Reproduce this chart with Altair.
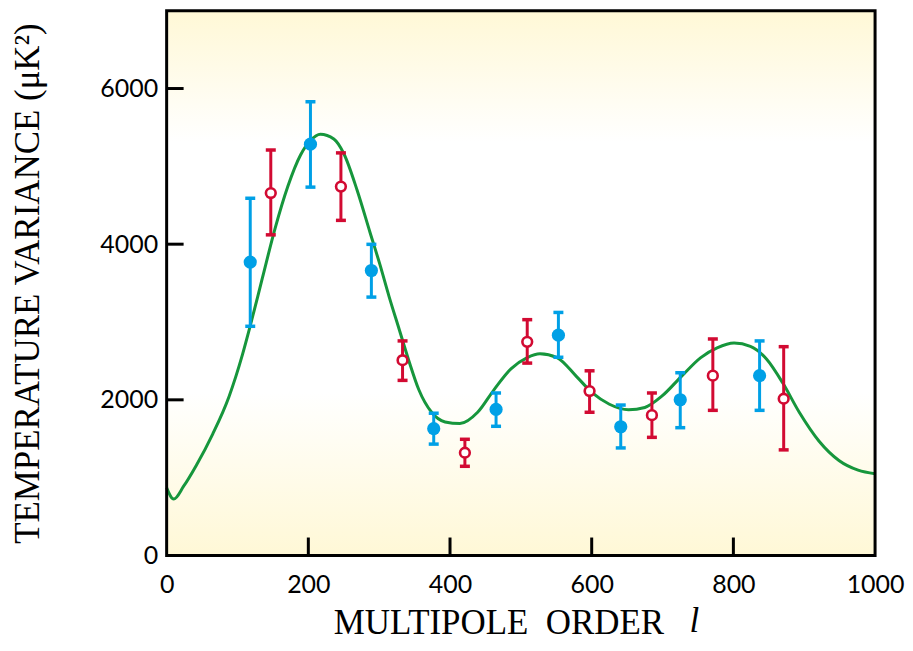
import altair as alt
import pandas as pd

# ---- data ----
X_DOMAIN = [0, 1000]
Y_DOMAIN = [0, 7000]
X_TICKS = [0, 200, 400, 600, 800, 1000]
Y_TICKS = [0, 2000, 4000, 6000]

BLUE_L = [118, 203, 289, 377, 465, 553, 641, 725, 837]
BLUE_V = [3770, 5285, 3662, 1630, 1877, 2831, 1654, 2001, 2311]
BLUE_HI = [4590, 5830, 3998, 1828, 2088, 3123, 1933, 2348, 2757]
BLUE_LO = [2945, 4733, 3320, 1431, 1660, 2547, 1382, 1642, 1865]

RED_L = [147, 246, 333, 421, 509, 597, 685, 771, 871]
RED_V = [4657, 4740, 2509, 1320, 2745, 2113, 1803, 2311, 2014]
RED_HI = [5210, 5173, 2757, 1493, 3030, 2373, 2088, 2782, 2683]
RED_LO = [4120, 4306, 2250, 1146, 2472, 1840, 1518, 1865, 1357]

CURVE_L = [0, 10, 24, 42, 65, 88, 107, 118, 135, 153, 171, 189, 203, 217, 236,
           250, 269, 287, 301, 314, 328, 342, 356, 374, 393, 414, 439, 462, 486,
           509, 527, 551, 579, 601, 625, 652, 675, 699, 726, 754, 777, 801, 824,
           847, 870, 893, 921, 949, 976, 1000]
CURVE_V = [870, 725, 890, 1160, 1560, 2040, 2580, 2950, 3560, 4200, 4740, 5145,
           5331, 5413, 5351, 5165, 4690, 4154, 3740, 3327, 2914, 2500, 2129, 1840,
           1716, 1695, 1840, 2129, 2398, 2543, 2592, 2543, 2295, 2088, 1943, 1873,
           1902, 2047, 2295, 2543, 2667, 2729, 2687, 2522, 2212, 1840, 1468, 1221,
           1097, 1050]

X_TITLE = "MULTIPOLE\u2002ORDER"
X_TITLE_VAR = "l"
Y_TITLE = "TEMPERATURE VARIANCE (\u03bcK\u00b2)"

# ---- styling ----
W, H = 710, 546
TICK_LEN = 17  # pixels, inward
BLUE = "#00A0E6"
RED = "#D20A32"
GREEN = "#16963C"
LABEL_FONT = "Lato"
TITLE_FONT = "Liberation Serif"
VAR_X = 738  # horizontal anchor of the italic "l" (in axis units)

# tick length expressed in axis units
TICK_DX = TICK_LEN / W * (X_DOMAIN[1] - X_DOMAIN[0])
TICK_DY = (TICK_LEN + 1) / H * (Y_DOMAIN[1] - Y_DOMAIN[0])

xs = alt.Scale(domain=X_DOMAIN, nice=False, zero=False)
ys = alt.Scale(domain=Y_DOMAIN, nice=False, zero=False)

X_AXIS = alt.Axis(
    values=X_TICKS, format="d", ticks=False, tickSize=0, domain=False, grid=False,
    labelFont=LABEL_FONT, labelFontSize=25, labelColor="black",
    labelPadding=17, labelFlush=False,
    title=X_TITLE, titleFont=TITLE_FONT, titleFontSize=35,
    titleFontWeight="normal", titleColor="black",
    titleAlign="left", titleAnchor="start", titleX=167, titlePadding=8)
Y_AXIS = alt.Axis(
    values=Y_TICKS, format="d", ticks=False, tickSize=0, domain=False, grid=False,
    labelFont=LABEL_FONT, labelFontSize=25, labelColor="black",
    labelPadding=9, labelFlush=False,
    title=Y_TITLE, titleFont=TITLE_FONT, titleFontSize=35,
    titleFontWeight="normal", titleColor="black", titlePadding=54)


def X(field):
    return alt.X(field, scale=xs, axis=X_AXIS)


def Y(field):
    return alt.Y(field, scale=ys, axis=Y_AXIS)


frame_df = pd.DataFrame({"x0": [X_DOMAIN[0]], "x1": [X_DOMAIN[1]],
                         "y0": [Y_DOMAIN[0]], "y1": [Y_DOMAIN[1]]})
blue_df = pd.DataFrame({"l": BLUE_L, "v": BLUE_V, "hi": BLUE_HI, "lo": BLUE_LO})
red_df = pd.DataFrame({"l": RED_L, "v": RED_V, "hi": RED_HI, "lo": RED_LO})
curve_df = pd.DataFrame({"l": CURVE_L, "v": CURVE_V})

xt_df = pd.DataFrame({"tx": X_TICKS[1:-1]})
xt_df["t0"] = Y_DOMAIN[0]
xt_df["t1"] = Y_DOMAIN[0] + TICK_DY
yt_df = pd.DataFrame({"ty": Y_TICKS[1:]})
yt_df["s0"] = X_DOMAIN[0]
yt_df["s1"] = X_DOMAIN[0] + TICK_DX

grad = alt.LinearGradient(
    gradient="linear",
    stops=[alt.GradientStop(color="#FFF8D6", offset=0),
           alt.GradientStop(color="#FFFFFF", offset=0.24),
           alt.GradientStop(color="#FFFFFF", offset=0.70),
           alt.GradientStop(color="#FFF8D6", offset=1)],
    x1=0, x2=0, y1=0, y2=1)

background = alt.Chart(frame_df).mark_rect(color=grad).encode(
    x=X("x0:Q"), x2="x1:Q", y=Y("y0:Q"), y2="y1:Q")

# inward-pointing ticks
ytick_marks = alt.Chart(yt_df).mark_rule(color="black", strokeWidth=3).encode(
    y=Y("ty:Q"), x=X("s0:Q"), x2="s1:Q")
xtick_marks = alt.Chart(xt_df).mark_rule(color="black", strokeWidth=3).encode(
    x=X("tx:Q"), y=Y("t0:Q"), y2="t1:Q")

curve = alt.Chart(curve_df).mark_line(color=GREEN, strokeWidth=3,
                                      interpolate="monotone").encode(
    x=X("l:Q"), y=Y("v:Q"))


def errbars(df, col):
    bar = alt.Chart(df).mark_rule(color=col, strokeWidth=3).encode(
        x=X("l:Q"), y=Y("lo:Q"), y2="hi:Q")
    cap_hi = alt.Chart(df).mark_tick(color=col, orient="horizontal", size=10,
                                     thickness=3.5, opacity=1).encode(
        x=X("l:Q"), y=Y("hi:Q"))
    cap_lo = alt.Chart(df).mark_tick(color=col, orient="horizontal", size=10,
                                     thickness=3.5, opacity=1).encode(
        x=X("l:Q"), y=Y("lo:Q"))
    return bar + cap_hi + cap_lo


blue_pts = alt.Chart(blue_df).mark_circle(color=BLUE, size=175, opacity=1).encode(
    x=X("l:Q"), y=Y("v:Q"))
red_pts = alt.Chart(red_df).mark_point(shape="circle", filled=True, fill="white",
                                       stroke=RED, strokeWidth=2.6, size=95,
                                       opacity=1, fillOpacity=1).encode(
    x=X("l:Q"), y=Y("v:Q"))

frame = alt.Chart(frame_df).mark_rect(filled=False, fill=None, stroke="black",
                                      strokeWidth=3).encode(
    x=X("x0:Q"), x2="x1:Q", y=Y("y0:Q"), y2="y1:Q")

var_label = alt.Chart(frame_df).mark_text(
    text=X_TITLE_VAR, font=TITLE_FONT, fontSize=35, fontStyle="italic",
    align="left", baseline="alphabetic", color="black", dy=77).encode(
    x=alt.datum(VAR_X, scale=xs), y=alt.datum(Y_DOMAIN[0], scale=ys))

chart = alt.layer(
    background, ytick_marks, xtick_marks, curve,
    errbars(blue_df, BLUE), errbars(red_df, RED),
    blue_pts, red_pts, frame, var_label,
).properties(
    width=W, height=H,
    padding={"top": 0, "left": 2, "right": 0, "bottom": 0},
).configure_view(stroke=None)

chart.save("out.html", embed_options={"renderer": "svg", "actions": False})
